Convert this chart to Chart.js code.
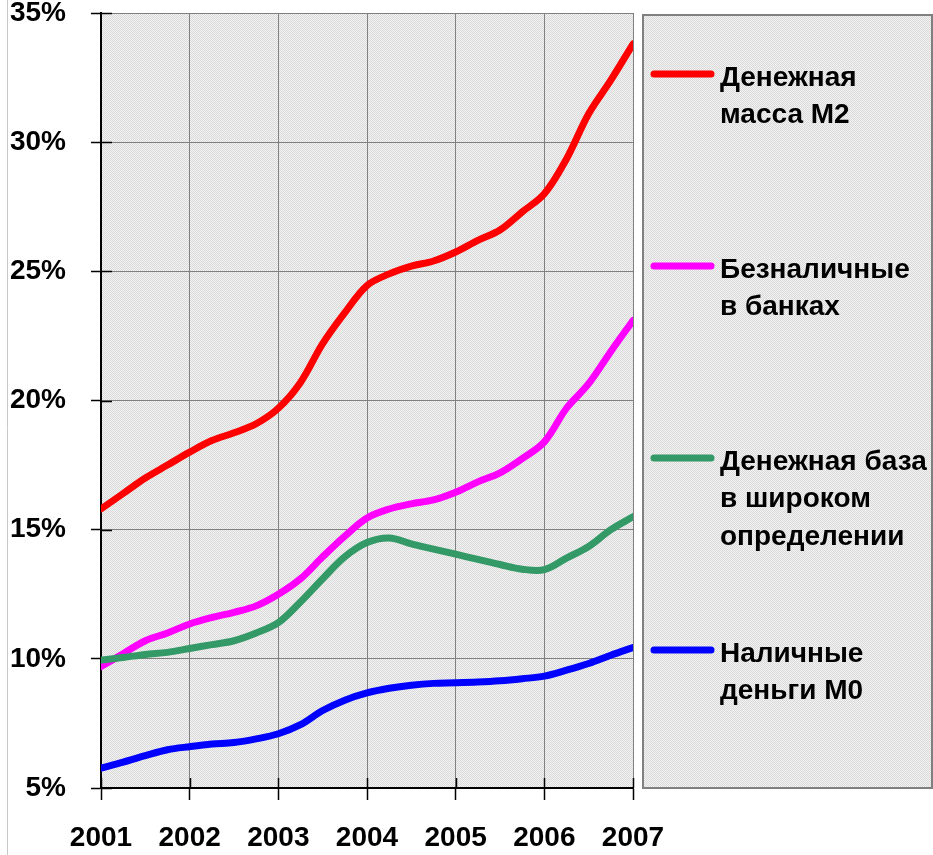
<!DOCTYPE html>
<html>
<head>
<meta charset="utf-8">
<script src="https://cdn.jsdelivr.net/npm/chart.js@4.4.1/dist/chart.umd.min.js"></script>
<style>
  html, body { margin: 0; padding: 0; background: #ffffff; }
  #wrap { position: relative; width: 933px; height: 855px; }
  canvas { display: block; }
</style>
</head>
<body>
<div id="wrap"><canvas id="c" width="933" height="855"></canvas></div>
<script>
// ---- data (quarterly) ----
const quarters = [2001, 2001.25, 2001.5, 2001.75, 2002, 2002.25, 2002.5, 2002.75, 2003, 2003.25, 2003.5, 2003.75,
                  2004, 2004.25, 2004.5, 2004.75, 2005, 2005.25, 2005.5, 2005.75, 2006, 2006.25, 2006.5, 2006.75, 2007];
const yearTicks = ['2001', '2002', '2003', '2004', '2005', '2006', '2007'];
const percentTicks = ['5%', '10%', '15%', '20%', '25%', '30%', '35%'];

const seriesNames = [
  ['Денежная', 'масса М2'],
  ['Безналичные', 'в банках'],
  ['Денежная база', 'в широком', 'определении'],
  ['Наличные', 'деньги М0']
];
const m2Values = [15.8, 16.4, 17.0, 17.5, 18.0, 18.45, 18.75, 19.1, 19.7, 20.7, 22.2, 23.4, 24.45,
                  24.9, 25.2, 25.4, 25.75, 26.2, 26.6, 27.3, 28.0, 29.35, 31.1, 32.4, 33.8];
const noncashValues = [9.7, 10.2, 10.7, 11.0, 11.35, 11.6, 11.8, 12.05, 12.5, 13.1, 13.95, 14.75, 15.45,
                       15.8, 16.0, 16.15, 16.45, 16.85, 17.2, 17.75, 18.4, 19.7, 20.65, 21.9, 23.1];
const baseValues = [9.95, 10.05, 10.17, 10.25, 10.4, 10.55, 10.7, 11.0, 11.4, 12.2, 13.1, 13.95, 14.5,
                    14.68, 14.45, 14.25, 14.05, 13.85, 13.65, 13.47, 13.45, 13.9, 14.35, 15.0, 15.5];
const cashValues = [5.77, 6.0, 6.25, 6.48, 6.6, 6.7, 6.76, 6.9, 7.1, 7.45, 8.0, 8.4, 8.68,
                    8.86, 8.98, 9.05, 9.07, 9.1, 9.15, 9.23, 9.33, 9.56, 9.82, 10.14, 10.44];
const seriesColors = ['#ff0000', '#ff00ff', '#339966', '#0000ff'];
const seriesValues = [m2Values, noncashValues, baseValues, cashValues];
const drawOrder = [0, 2, 1, 3];

// ---- background pattern ----
function makePattern(ctx) {
  const p = document.createElement('canvas');
  p.width = 2; p.height = 2;
  const pc = p.getContext('2d');
  pc.fillStyle = '#f3f3f3'; pc.fillRect(0, 0, 2, 2);
  pc.fillStyle = '#d9d9d9'; pc.fillRect(0, 0, 1, 1); pc.fillRect(1, 1, 1, 1);
  return ctx.createPattern(p, 'repeat');
}

const ctx = document.getElementById('c').getContext('2d');
const pattern = makePattern(ctx);

const datasets = seriesValues.map((vals, i) => ({
  label: seriesNames[i].join(' '),
  data: vals.map((v, j) => ({ x: quarters[j], y: v })),
  borderColor: seriesColors[i],
  backgroundColor: seriesColors[i],
  borderWidth: 7,
  pointRadius: 0,
  tension: 0.35,
  fill: false,
  order: drawOrder[i],
  borderCapStyle: 'round',
  borderJoinStyle: 'round'
}));

const tickFont = { family: "'Liberation Sans', Arial, sans-serif", size: 28, weight: 'bold' };
const legendFont = "bold 28px 'Liberation Sans', Arial, sans-serif";

const bgPlugin = {
  id: 'bgPlugin',
  beforeDraw(chart) {
    const { ctx, chartArea: a } = chart;
    ctx.save();
    ctx.fillStyle = pattern;
    ctx.fillRect(a.left, a.top, a.right - a.left, a.bottom - a.top);
    ctx.strokeStyle = '#c8c8c8';
    ctx.lineWidth = 1;
    ctx.beginPath(); ctx.moveTo(7.5, 0); ctx.lineTo(7.5, chart.height); ctx.stroke();
    ctx.restore();
  },
  beforeDatasetsDraw(chart) {
    const { ctx, chartArea: a, scales } = chart;
    ctx.save();
    ctx.strokeStyle = '#000';
    ctx.lineWidth = 1.5;
    scales.y.ticks.forEach(t => {
      const y = Math.round(scales.y.getPixelForValue(t.value)) + 0.5;
      ctx.beginPath(); ctx.moveTo(a.left, y); ctx.lineTo(a.left + 11, y); ctx.stroke();
    });
    scales.x.ticks.forEach(t => {
      const x = Math.round(scales.x.getPixelForValue(t.value)) + 0.5;
      ctx.beginPath(); ctx.moveTo(x, a.bottom); ctx.lineTo(x, a.bottom - 10); ctx.stroke();
    });
    ctx.restore();
  },
  afterDraw(chart) {
    const { ctx, chartArea: a } = chart;
    const bx = a.right + 10, by = a.top + 2, bw = chart.width - bx - 1, bh = a.bottom - by;
    ctx.save();
    ctx.fillStyle = pattern;
    ctx.fillRect(bx, by, bw, bh);
    ctx.strokeStyle = '#808080';
    ctx.lineWidth = 2;
    ctx.strokeRect(bx, by, bw, bh);
    ctx.font = legendFont;
    ctx.textBaseline = 'middle';
    ctx.fillStyle = '#000';
    const y0 = a.top + 61, step = 192, lineGap = 37.5;
    seriesNames.forEach((lines, i) => {
      const y = y0 + i * step;
      ctx.strokeStyle = seriesColors[i];
      ctx.lineWidth = 7;
      ctx.lineCap = 'round';
      ctx.beginPath(); ctx.moveTo(bx + 11, y); ctx.lineTo(bx + 68, y); ctx.stroke();
      lines.forEach((ln, k) => {
        ctx.fillText(ln, bx + 77, y + 4 + k * lineGap);
      });
    });
    ctx.restore();
  }
};

new Chart(ctx, {
  type: 'line',
  data: { datasets },
  plugins: [bgPlugin],
  options: {
    responsive: false,
    animation: false,
    layout: { padding: { top: 13, right: 300, left: 0, bottom: 0 } },
    plugins: { legend: { display: false }, tooltip: { enabled: false }, title: { display: false } },
    scales: {
      x: {
        type: 'linear',
        min: 2001, max: 2007,
        afterFit(s) { s.height = 67; s.paddingLeft = 0; s.paddingRight = 0; },
        ticks: {
          stepSize: 1,
          autoSkip: false,
          maxRotation: 0,
          color: '#000',
          font: tickFont,
          padding: 21,
          callback: (v) => yearTicks[Math.round(v - 2001)]
        },
        grid: { color: '#808080', lineWidth: 1, tickLength: 12, tickColor: '#000', tickWidth: 1.5 },
        border: { color: '#000', width: 2 }
      },
      y: {
        min: 5, max: 35,
        afterFit(s) { s.width = 101; s.paddingTop = 0; s.paddingBottom = 0; },
        ticks: {
          stepSize: 5,
          color: '#000',
          font: tickFont,
          padding: 25,
          callback: (v) => percentTicks[Math.round((v - 5) / 5)]
        },
        grid: { color: '#808080', lineWidth: 1, tickLength: 10, tickColor: '#000', tickWidth: 1.5 },
        border: { color: '#000', width: 2 }
      }
    }
  }
});
</script>
</body>
</html>
